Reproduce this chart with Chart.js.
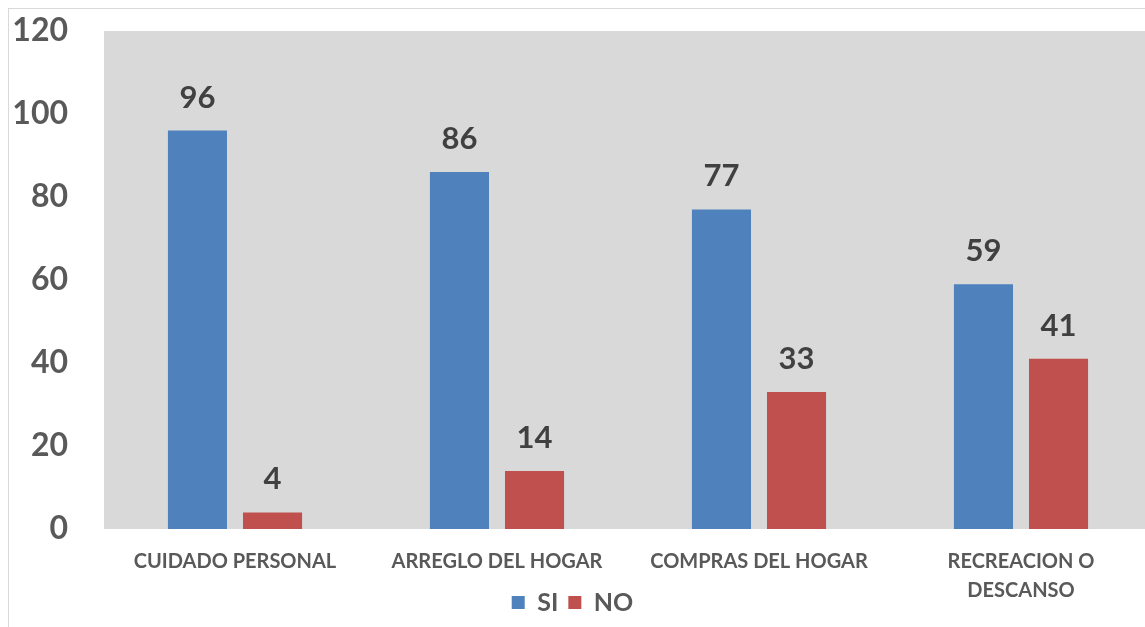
<!DOCTYPE html>
<html>
<head>
<meta charset="utf-8">
<script src="https://cdn.jsdelivr.net/npm/chart.js@4.4.1/dist/chart.umd.min.js"></script>
<style>
    html, body {margin: 0; padding: 0; background: #fff; overflow: hidden;}
    #wrap {position: relative; width: 1145px; height: 627px; overflow: hidden;}
    #frame {position: absolute; left: 8px; top: 8px; width: 1200px; height: 700px; border: 1px solid #d9d9d9; box-sizing: border-box;}
    #box {position: absolute; left: 0; top: 0; width: 1160px; height: 627px;}
</style>
</head>
<body>
<div id="wrap">
    <div id="frame"></div>
    <div id="box"><canvas id="chart"></canvas></div>
</div>
<script>
const categories = ['CUIDADO PERSONAL', 'ARREGLO DEL HOGAR', 'COMPRAS DEL HOGAR', ['RECREACION O', 'DESCANSO']]
const siValues = [96, 86, 77, 59]
const noValues = [4, 14, 33, 41]
const yTicks = [0, 20, 40, 60, 80, 100, 120]

const fontFamily = 'Lato, "Open Sans", sans-serif'
const axisColor = '#595959'

// gray plot background, legend moved under the axis labels, value labels above the bars
const chartExtras = {
    id: 'chartExtras',
    afterLayout(chart) {
        const lg = chart.legend
        lg.left = 0
        lg.right = 1145
        lg.top = 580
        lg.bottom = 627
    },
    beforeDraw(chart) {
        const {ctx, chartArea} = chart
        ctx.save()
        ctx.fillStyle = '#d9d9d9'
        ctx.fillRect(chartArea.left, chartArea.top, chartArea.right - chartArea.left, chartArea.bottom - chartArea.top)
        ctx.restore()
    },
    afterDatasetsDraw(chart) {
        const {ctx} = chart
        ctx.save()
        ctx.font = 'bold 31px ' + fontFamily
        ctx.fillStyle = '#404040'
        ctx.textAlign = 'center'
        ctx.textBaseline = 'middle'
        chart.data.datasets.forEach((ds, i) => {
            chart.getDatasetMeta(i).data.forEach((bar, j) => {
                ctx.fillText(ds.data[j], bar.x, bar.y - 33)
            })
        })
        ctx.restore()
    }
}

new Chart(document.getElementById('chart'), {
    type: 'bar',
    data: {
        labels: categories,
        datasets: [{
            label: 'SI',
            data: siValues,
            backgroundColor: '#4f81bd',
            categoryPercentage: 0.573,
            barPercentage: 0.787
        }, {
            label: 'NO',
            data: noValues,
            backgroundColor: '#c0504d',
            categoryPercentage: 0.573,
            barPercentage: 0.787
        }]
    },
    options: {
        responsive: true, maintainAspectRatio: false, animation: false,
        layout: {padding: {top: 31, right: 8, left: 0, bottom: 17}},
        plugins: {
            tooltip: {enabled: false},
            legend: {
                position: 'bottom',
                maxHeight: 1,
                labels: {
                    boxWidth: 13, boxHeight: 13, padding: 10,
                    color: axisColor,
                    font: {family: fontFamily, size: 25, weight: 'bold'}
                }
            }
        },
        scales: {
            y: {
                min: 0, max: 120,
                afterBuildTicks: (scale) => { scale.ticks = yTicks.map(v => ({value: v})) },
                afterFit: (scale) => {
                    scale.width = 104
                    scale.paddingTop = 0
                    scale.paddingBottom = 0
                },
                grid: {display: false},
                border: {display: false},
                ticks: {
                    padding: 28, color: axisColor,
                    font: {family: fontFamily, size: 32, weight: 'bold'}
                }
            },
            x: {
                afterFit: (scale) => {
                    scale.height = 80
                    scale.paddingLeft = 0
                    scale.paddingRight = 0
                },
                grid: {display: false},
                border: {display: false},
                ticks: {
                    padding: 10, color: axisColor, maxRotation: 0, autoSkip: false,
                    font: {family: fontFamily, size: 20, weight: 'bold', lineHeight: 1.45}
                }
            }
        }
    },
    plugins: [chartExtras]
})
</script>
</body>
</html>
